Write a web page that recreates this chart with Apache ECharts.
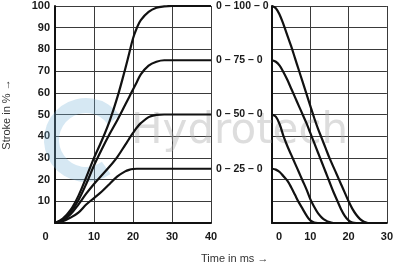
<!DOCTYPE html>
<html><head><meta charset="utf-8">
<script src="https://cdn.jsdelivr.net/npm/echarts@6/dist/echarts.min.js"></script>
<style>html,body{margin:0;padding:0;background:#fff}#c{width:396px;height:268px}</style>
</head><body><div id="c"></div>
<script>
// ---- data ----
const tUp = [0,2,4,6,8,10,12,14,16,18,19,20,21,22,24,26,28,30,35,40];
const up100 = [0,2,6,12.5,21,30,38,47,58,71,78,85,90,93.5,97.3,99.2,99.8,100,100,100];
const up75  = [0,1.5,5,10.5,18,26.5,34,41,47.5,54.5,58,61.5,65,68.5,72.5,74.3,75,75,75,75];
const up50  = [0,1.2,4,8.5,13.5,18,22,26,30.5,36,38.8,41.5,44,46,48.8,49.8,50,50,50,50];
const up25  = [0,0.8,2.5,4.8,8.5,11.5,14.5,18,21.5,23.8,24.5,24.9,25,25,25,25,25,25,25,25];
const tDown = [0,1,2,3,4,5,6,7,8,9,10,11,12,13,14,15,16,17,18,19,20,21,22,23,24,25];
const dn100 = [100,99,96,91.5,86.5,81.5,76,70.5,65,59.5,54,48.5,43.5,39,34.5,30,26,22,18,14,10,6.5,3.8,1.8,0.6,0];
const dn75  = [75,74.3,72.5,69.5,66,62,58,54,50,46,41.5,37,32.5,28,23.5,19,14.5,10.5,6.5,3.3,1.2,0.2,0];
const dn50  = [50,49,45.5,40,35.5,31.5,27.5,23.5,19.5,15.5,11,7.5,4.5,2.5,1.2,0.4,0];
const dn25  = [25,24.6,23.5,21.5,19.5,16.5,13,9.5,6.5,3.5,1.2,0.2,0];
const labels = ['0 – 100 – 0','0 – 75 – 0','0 – 50 – 0','0 – 25 – 0'];
const yTicks = [0,10,20,30,40,50,60,70,80,90,100];
const xTicksLeft = [0,10,20,30,40];
const xTicksRight = [0,10,20,30];
const yName = 'Stroke in % →';
const xName = 'Time in ms →';
const watermark = 'Hydrotech';

const pair = (t, v) => v.map((y, i) => [t[i], y]);
const chart = echarts.init(document.getElementById('c'), null, {renderer:'canvas'});
const font = 'Liberation Sans, Arial, sans-serif';
const gridLine = {show:true, lineStyle:{color:'#3a3a3a', width:1}};
const axLine = {show:true, onZero:false, lineStyle:{color:'#111', width:2}};
const tickLbl = {color:'#1a1a1a', fontFamily:font, fontWeight:'bold', fontSize:11};

function upSeries(v, lbl) {
  return {type:'line', xAxisIndex:0, yAxisIndex:0, data: pair(tUp, v), smooth:0.35, symbol:'none',
    lineStyle:{color:'#111', width:2.2}, z:5,
    endLabel:{show:true, formatter: lbl, distance:5, color:'#1a1a1a', fontFamily:font, fontWeight:'bold', fontSize:10.5}};
}
function dnSeries(v) {
  return {type:'line', xAxisIndex:1, yAxisIndex:1, data: pair(tDown, v), smooth:0.35, symbol:'none',
    lineStyle:{color:'#111', width:2.2}, z:5};
}

chart.setOption({
  animation:false,
  backgroundColor:'#fff',
  grid:[
    {left:55, right:185, top:6, bottom:45},
    {left:272, right:5, top:6, bottom:45}
  ],
  xAxis:[
    {type:'value', gridIndex:0, min:xTicksLeft[0], max:xTicksLeft[xTicksLeft.length-1], interval:10,
     axisLine:axLine, axisTick:{show:false}, splitLine:gridLine,
     axisLabel:Object.assign({}, tickLbl, {margin:8, formatter: v => v===0 ? '{a|0}' : String(v),
       rich:{a:{color:'#1a1a1a', fontFamily:font, fontWeight:'bold', fontSize:11, padding:[0,19,0,0]}}})},
    {type:'value', gridIndex:1, min:xTicksRight[0], max:xTicksRight[xTicksRight.length-1], interval:10,
     axisLine:axLine, axisTick:{show:false}, splitLine:gridLine,
     axisLabel:Object.assign({}, tickLbl, {margin:8, formatter: v => v===0 ? '{a|0}' : String(v),
       rich:{a:{color:'#1a1a1a', fontFamily:font, fontWeight:'bold', fontSize:11, padding:[0,0,0,14]}}})}
  ],
  yAxis:[
    {type:'value', gridIndex:0, min:yTicks[0], max:yTicks[yTicks.length-1], interval:10,
     axisLine:axLine, axisTick:{show:false}, splitLine:gridLine,
     axisLabel:Object.assign({}, tickLbl, {margin:5, formatter: v => v===0 ? '' : String(v)}),
     name:yName, nameLocation:'middle', nameRotate:90, nameGap:43,
     nameTextStyle:{color:'#333', fontFamily:font, fontSize:11}},
    {type:'value', gridIndex:1, min:yTicks[0], max:yTicks[yTicks.length-1], interval:10,
     axisLine:axLine, axisTick:{show:false}, splitLine:gridLine, axisLabel:{show:false}}
  ],
  graphic:[
    {type:'text', left:201, top:253, z:10, style:{text:xName, fill:'#333', font:'11px Liberation Sans, Arial, sans-serif'}},
    {type:'text', left:131, top:111, z:1, silent:true, style:{text:watermark, fill:'rgba(170,170,170,0.4)', font:'42px DejaVu Sans, sans-serif'}},
    {type:'sector', shape:{cx:86, cy:140, r:42, r0:27, startAngle:Math.PI*0.3, endAngle:Math.PI*1.8, clockwise:true}, z:1, silent:true, style:{fill:'rgba(120,180,215,0.3)'}}
  ],
  series:[
    upSeries(up100, labels[0]), upSeries(up75, labels[1]), upSeries(up50, labels[2]), upSeries(up25, labels[3]),
    dnSeries(dn100), dnSeries(dn75), dnSeries(dn50), dnSeries(dn25)
  ]
});
</script></body></html>
